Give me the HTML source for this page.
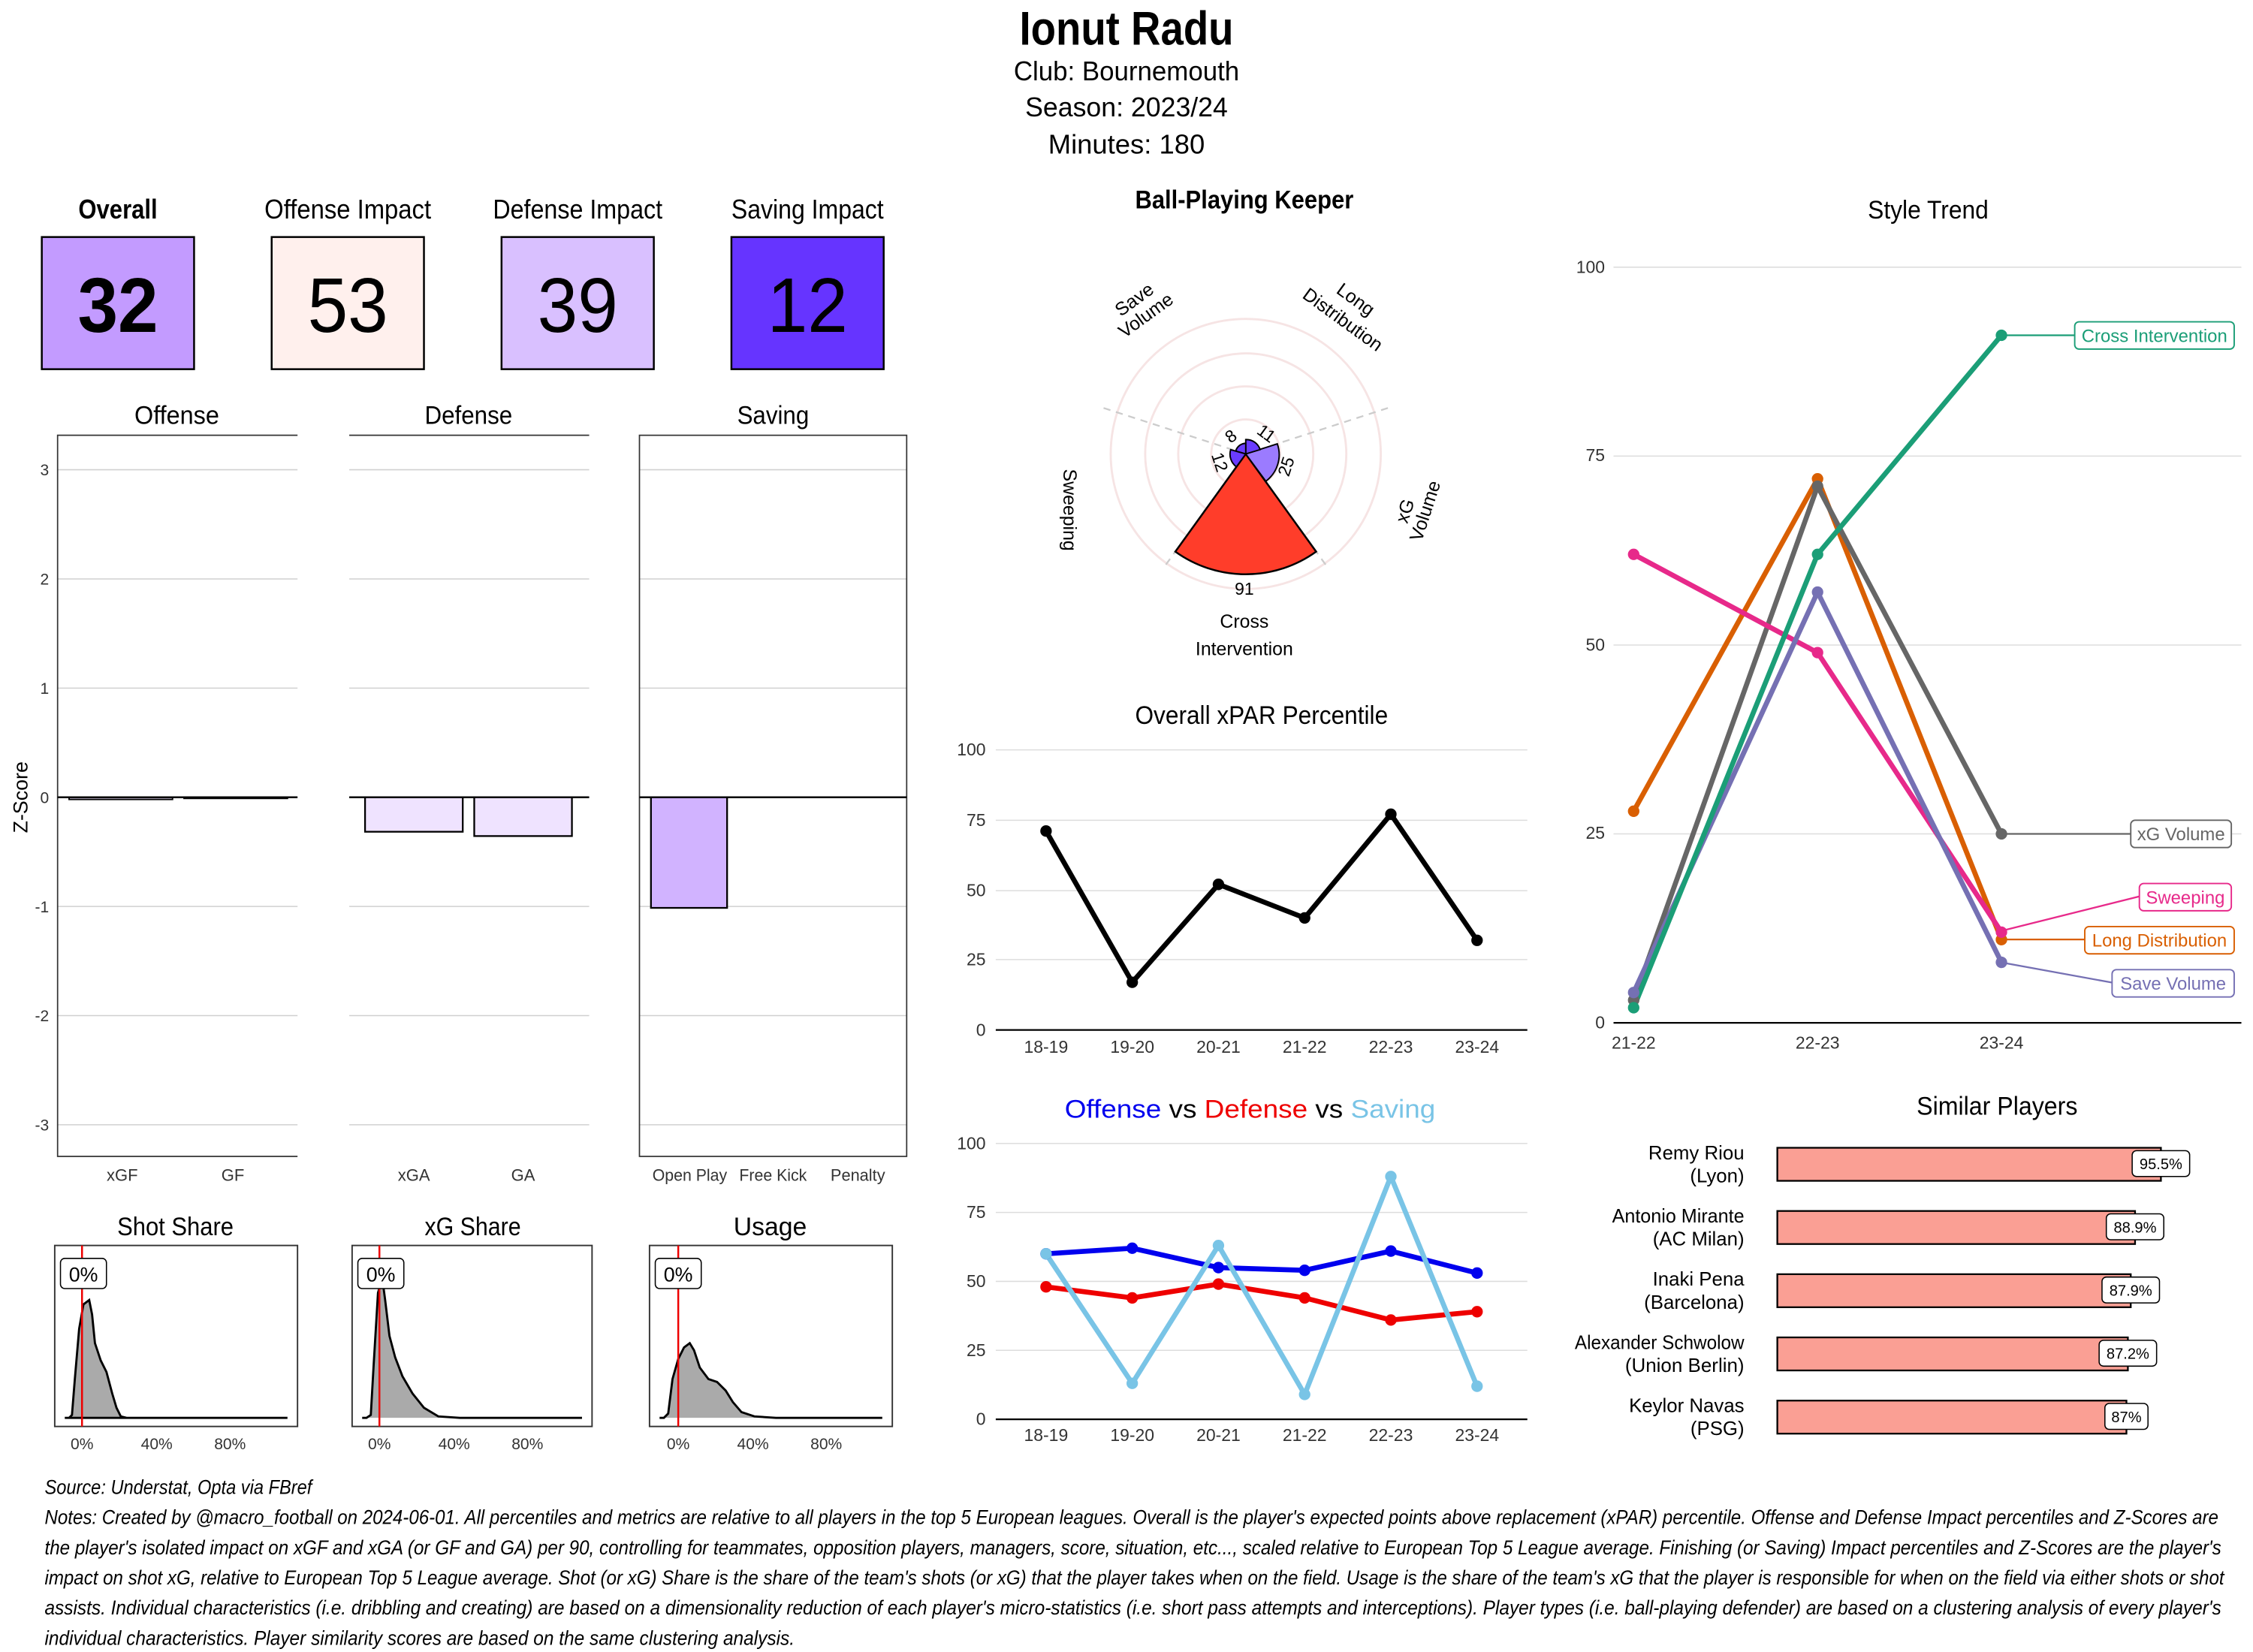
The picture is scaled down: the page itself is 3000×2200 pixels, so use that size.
<!DOCTYPE html>
<html><head><meta charset="utf-8"><style>
html,body{margin:0;padding:0;background:#fff;}
svg{display:block;font-family:"Liberation Sans Narrow","Liberation Sans",sans-serif;}
</style></head><body>
<svg width="3000" height="2200" viewBox="0 0 1568 1150" xmlns="http://www.w3.org/2000/svg">
<rect width="1568" height="1150" fill="#fff"/>
<!-- Title -->
<text x="784" y="31" text-anchor="middle" font-size="33" font-weight="bold" textLength="149" lengthAdjust="spacingAndGlyphs">Ionut Radu</text>
<text x="784" y="56" text-anchor="middle" font-size="19" textLength="157" lengthAdjust="spacingAndGlyphs">Club:  Bournemouth</text>
<text x="784" y="81" text-anchor="middle" font-size="19" textLength="141" lengthAdjust="spacingAndGlyphs">Season:  2023/24</text>
<text x="784" y="107" text-anchor="middle" font-size="19" textLength="109" lengthAdjust="spacingAndGlyphs">Minutes:  180</text>

<!-- Cards -->
<g font-size="19" text-anchor="middle">
<text x="82" y="152" font-weight="bold" textLength="55" lengthAdjust="spacingAndGlyphs">Overall</text>
<text x="242" y="152" textLength="116" lengthAdjust="spacingAndGlyphs">Offense Impact</text>
<text x="402" y="152" textLength="118" lengthAdjust="spacingAndGlyphs">Defense Impact</text>
<text x="562" y="152" textLength="106" lengthAdjust="spacingAndGlyphs">Saving Impact</text>
</g>
<rect x="29" y="165" width="106" height="92" fill="#c39bff" stroke="#000" stroke-width="1.3"/>
<rect x="189" y="165" width="106" height="92" fill="#fff0ed" stroke="#000" stroke-width="1.3"/>
<rect x="349" y="165" width="106" height="92" fill="#d9c0ff" stroke="#000" stroke-width="1.3"/>
<rect x="509" y="165" width="106" height="92" fill="#6634ff" stroke="#000" stroke-width="1.3"/>
<g font-size="54" text-anchor="middle">
<text x="82" y="231" font-weight="bold" textLength="56" lengthAdjust="spacingAndGlyphs">32</text>
<text x="242" y="231" textLength="56" lengthAdjust="spacingAndGlyphs">53</text>
<text x="402" y="231" textLength="56" lengthAdjust="spacingAndGlyphs">39</text>
<text x="562" y="231" textLength="56" lengthAdjust="spacingAndGlyphs">12</text>
</g>

<!-- Z-score bar panels -->
<g font-size="18" text-anchor="middle">
<text x="123" y="295" textLength="59" lengthAdjust="spacingAndGlyphs">Offense</text>
<text x="326" y="295" textLength="61" lengthAdjust="spacingAndGlyphs">Defense</text>
<text x="538" y="295" textLength="50" lengthAdjust="spacingAndGlyphs">Saving</text>
</g>
<g stroke="#d0d0d0" stroke-width="0.8">
<line x1="40" x2="207" y1="327" y2="327"/><line x1="40" x2="207" y1="403" y2="403"/><line x1="40" x2="207" y1="479" y2="479"/><line x1="40" x2="207" y1="631" y2="631"/><line x1="40" x2="207" y1="707" y2="707"/><line x1="40" x2="207" y1="783" y2="783"/>
<line x1="243" x2="410" y1="327" y2="327"/><line x1="243" x2="410" y1="403" y2="403"/><line x1="243" x2="410" y1="479" y2="479"/><line x1="243" x2="410" y1="631" y2="631"/><line x1="243" x2="410" y1="707" y2="707"/><line x1="243" x2="410" y1="783" y2="783"/>
<line x1="445" x2="631" y1="327" y2="327"/><line x1="445" x2="631" y1="403" y2="403"/><line x1="445" x2="631" y1="479" y2="479"/><line x1="445" x2="631" y1="631" y2="631"/><line x1="445" x2="631" y1="707" y2="707"/><line x1="445" x2="631" y1="783" y2="783"/>
</g>
<g fill="none" stroke="#333" stroke-width="0.9">
<polyline points="207,303 40,303 40,805 207,805"/>
<line x1="243" x2="410" y1="303" y2="303"/>
<rect x="445" y="303" width="186" height="502"/>
</g>
<g font-size="11" fill="#333" text-anchor="end">
<text x="34" y="331">3</text><text x="34" y="407">2</text><text x="34" y="483">1</text><text x="34" y="559">0</text><text x="34" y="635">-1</text><text x="34" y="711">-2</text><text x="34" y="787">-3</text>
</g>
<text transform="translate(19,555) rotate(-90)" text-anchor="middle" font-size="14">Z-Score</text>
<rect x="48" y="555" width="72" height="1.5" fill="#efe3ff" stroke="#000" stroke-width="1"/>
<rect x="128" y="555" width="72" height="0.8" fill="#efe3ff" stroke="#000" stroke-width="1"/>
<rect x="254" y="555" width="68" height="24" fill="#efe3ff" stroke="#000" stroke-width="1.2"/>
<rect x="330" y="555" width="68" height="27" fill="#efe3ff" stroke="#000" stroke-width="1.2"/>
<rect x="453" y="555" width="53" height="77" fill="#d1b3ff" stroke="#000" stroke-width="1.2"/>
<g stroke="#000" stroke-width="1.3"><line x1="40" x2="207" y1="555" y2="555"/><line x1="243" x2="410" y1="555" y2="555"/><line x1="445" x2="631" y1="555" y2="555"/></g>
<g font-size="11.5" fill="#333" text-anchor="middle">
<text x="85" y="822">xGF</text><text x="162" y="822">GF</text><text x="288" y="822">xGA</text><text x="364" y="822">GA</text>
<text x="480" y="822" textLength="52" lengthAdjust="spacingAndGlyphs">Open Play</text><text x="538" y="822" textLength="47" lengthAdjust="spacingAndGlyphs">Free Kick</text><text x="597" y="822" textLength="38" lengthAdjust="spacingAndGlyphs">Penalty</text>
</g>

<!-- Density panels -->
<g font-size="18" text-anchor="middle">
<text x="122" y="860" textLength="81" lengthAdjust="spacingAndGlyphs">Shot Share</text><text x="329" y="860" textLength="67" lengthAdjust="spacingAndGlyphs">xG Share</text><text x="536" y="860" textLength="51" lengthAdjust="spacingAndGlyphs">Usage</text>
</g>
<g fill="none" stroke="#333" stroke-width="1">
<rect x="38" y="867" width="169" height="126"/><rect x="245" y="867" width="167" height="126"/><rect x="452" y="867" width="169" height="126"/>
</g>
<path d="M45,987 L48,987 L50,985 L52,960 L55,925 L58,908 L62,905 L64,915 L66,935 L70,947 L74,955 L78,970 L81,980 L84,986 L88,987 L140,987 L200,987 Z" fill="#aaa" stroke="#000" stroke-width="1.5"/>
<path d="M252,987 L255,987 L258,985 L260,950 L263,900 L266,890 L268,905 L271,930 L275,945 L280,958 L287,970 L295,980 L305,986 L320,987 L405,987" fill="#aaa" stroke="#000" stroke-width="1.5"/>
<path d="M459,987 L462,987 L465,984 L468,960 L472,946 L476,938 L480,935 L483,940 L487,952 L493,960 L499,962 L505,968 L510,976 L516,983 L525,986 L540,987 L614,987" fill="#aaa" stroke="#000" stroke-width="1.5"/>
<g stroke="#e00" stroke-width="1.3"><line x1="57" x2="57" y1="867" y2="993"/><line x1="264" x2="264" y1="867" y2="993"/><line x1="472" x2="472" y1="867" y2="993"/></g>
<g fill="#fff" stroke="#000" stroke-width="0.8">
<rect x="42" y="876" width="32" height="21" rx="3"/><rect x="249" y="876" width="32" height="21" rx="3"/><rect x="456" y="876" width="32" height="21" rx="3"/>
</g>
<g font-size="14" text-anchor="middle"><text x="58" y="892">0%</text><text x="265" y="892">0%</text><text x="472" y="892">0%</text></g>
<g font-size="11" fill="#333" text-anchor="middle">
<text x="57" y="1009">0%</text><text x="109" y="1009">40%</text><text x="160" y="1009">80%</text>
<text x="264" y="1009">0%</text><text x="316" y="1009">40%</text><text x="367" y="1009">80%</text>
<text x="472" y="1009">0%</text><text x="524" y="1009">40%</text><text x="575" y="1009">80%</text>
</g>

<!-- Radar (center 867,316) -->
<text x="866" y="145" text-anchor="middle" font-size="18" font-weight="bold" textLength="152" lengthAdjust="spacingAndGlyphs">Ball-Playing Keeper</text>
<g fill="none" stroke="#f6e4e4" stroke-width="1.5">
<circle cx="867" cy="316" r="24"/><circle cx="867" cy="316" r="47"/><circle cx="867" cy="316" r="70"/><circle cx="867" cy="316" r="94"/>
</g>
<g stroke="#ccc" stroke-width="1.2" stroke-dasharray="5,4">
<line x1="867" y1="316" x2="768" y2="284"/><line x1="867" y1="316" x2="966" y2="284"/>
<line x1="867" y1="316" x2="810" y2="395"/><line x1="867" y1="316" x2="924" y2="395"/>
</g>
<path d="M867,316 L818,384 A84,84 0 0 0 916,384 Z" fill="#ff3d2a" stroke="#000" stroke-width="1.3"/>
<path d="M867,316 L889,309 A23,23 0 0 1 881,335 Z" fill="#9b7bff" stroke="#000" stroke-width="1"/>
<path d="M867,316 L867,306 A10,10 0 0 1 877,313 Z" fill="#6a3cff" stroke="#000" stroke-width="1"/>
<path d="M867,316 L860,314 A7.4,7.4 0 0 1 867,308.6 Z" fill="#6a3cff" stroke="#000" stroke-width="1"/>
<path d="M867,316 L860.5,325 A11,11 0 0 1 856.5,313 Z" fill="#6a3cff" stroke="#000" stroke-width="1"/>
<g font-size="12" text-anchor="middle">
<text x="866" y="414">91</text>
<text transform="translate(899,326) rotate(-72)">25</text>
<text transform="translate(879,305) rotate(36)">11</text>
<text transform="translate(859,307) rotate(-36)">8</text>
<text transform="translate(845,323) rotate(72)">12</text>
</g>
<g font-size="13" text-anchor="middle">
<text transform="translate(792,212) rotate(-36)">Save</text>
<text transform="translate(800,223) rotate(-36)">Volume</text>
<text transform="translate(941,212) rotate(36)">Long</text>
<text transform="translate(932,226) rotate(36)">Distribution</text>
<text transform="translate(740,355) rotate(90)">Sweeping</text>
<text transform="translate(982,357) rotate(-72)">xG</text>
<text transform="translate(996,357) rotate(-72)">Volume</text>
<text x="866" y="437">Cross</text>
<text x="866" y="456">Intervention</text>
</g>

<!-- xPAR -->
<text x="878" y="504" text-anchor="middle" font-size="18" textLength="176" lengthAdjust="spacingAndGlyphs">Overall xPAR Percentile</text>
<g stroke="#ddd" stroke-width="0.8">
<line x1="693" x2="1063" y1="522" y2="522"/><line x1="693" x2="1063" y1="571" y2="571"/><line x1="693" x2="1063" y1="620" y2="620"/><line x1="693" x2="1063" y1="668" y2="668"/>
</g>
<line x1="693" x2="1063" y1="717" y2="717" stroke="#000" stroke-width="1.2"/>
<g font-size="12" fill="#333" text-anchor="end">
<text x="686" y="526">100</text><text x="686" y="575">75</text><text x="686" y="624">50</text><text x="686" y="672">25</text><text x="686" y="721">0</text>
</g>
<g font-size="12" fill="#333" text-anchor="middle">
<text x="728" y="733">18-19</text><text x="788" y="733">19-20</text><text x="848" y="733">20-21</text><text x="908" y="733">21-22</text><text x="968" y="733">22-23</text><text x="1028" y="733">23-24</text>
</g>
<polyline points="728,578.5 788,683.8 848,615.6 908,639 968,566.8 1028,654.6" fill="none" stroke="#000" stroke-width="3.5" stroke-linejoin="round"/>
<g fill="#000"><circle cx="728" cy="578.5" r="4"/><circle cx="788" cy="683.8" r="4"/><circle cx="848" cy="615.6" r="4"/><circle cx="908" cy="639" r="4"/><circle cx="968" cy="566.8" r="4"/><circle cx="1028" cy="654.6" r="4"/></g>

<!-- Offense vs Defense vs Saving -->
<text x="870" y="778" text-anchor="middle" font-size="18" textLength="258" lengthAdjust="spacingAndGlyphs"><tspan fill="#0000ee">Offense</tspan><tspan fill="#000">  vs  </tspan><tspan fill="#ee0000">Defense</tspan><tspan fill="#000">  vs  </tspan><tspan fill="#79c4e6">Saving</tspan></text>
<g stroke="#ddd" stroke-width="0.8">
<line x1="693" x2="1063" y1="796" y2="796"/><line x1="693" x2="1063" y1="844" y2="844"/><line x1="693" x2="1063" y1="892" y2="892"/><line x1="693" x2="1063" y1="940" y2="940"/>
</g>
<line x1="693" x2="1063" y1="988" y2="988" stroke="#000" stroke-width="1.2"/>
<g font-size="12" fill="#333" text-anchor="end">
<text x="686" y="800">100</text><text x="686" y="848">75</text><text x="686" y="896">50</text><text x="686" y="944">25</text><text x="686" y="992">0</text>
</g>
<g font-size="12" fill="#333" text-anchor="middle">
<text x="728" y="1003">18-19</text><text x="788" y="1003">19-20</text><text x="848" y="1003">20-21</text><text x="908" y="1003">21-22</text><text x="968" y="1003">22-23</text><text x="1028" y="1003">23-24</text>
</g>
<g fill="none" stroke-width="3.5" stroke-linejoin="round">
<polyline points="728,872.8 788,868.9 848,882.4 908,884.3 968,870.9 1028,886.2" stroke="#0000ee"/>
<polyline points="728,895.8 788,903.5 848,893.9 908,903.5 968,918.9 1028,913.1" stroke="#ee0000"/>
<polyline points="728,872.8 788,963 848,867 908,970.7 968,819 1028,965" stroke="#79c4e6"/>
</g>
<g fill="#0000ee"><circle cx="728" cy="872.8" r="4"/><circle cx="788" cy="868.9" r="4"/><circle cx="848" cy="882.4" r="4"/><circle cx="908" cy="884.3" r="4"/><circle cx="968" cy="870.9" r="4"/><circle cx="1028" cy="886.2" r="4"/></g>
<g fill="#ee0000"><circle cx="728" cy="895.8" r="4"/><circle cx="788" cy="903.5" r="4"/><circle cx="848" cy="893.9" r="4"/><circle cx="908" cy="903.5" r="4"/><circle cx="968" cy="918.9" r="4"/><circle cx="1028" cy="913.1" r="4"/></g>
<g fill="#79c4e6"><circle cx="728" cy="872.8" r="4"/><circle cx="788" cy="963" r="4"/><circle cx="848" cy="867" r="4"/><circle cx="908" cy="970.7" r="4"/><circle cx="968" cy="819" r="4"/><circle cx="1028" cy="965" r="4"/></g>

<!-- Style Trend -->
<text x="1342" y="152" text-anchor="middle" font-size="18" textLength="84" lengthAdjust="spacingAndGlyphs">Style Trend</text>
<g stroke="#ddd" stroke-width="0.8">
<line x1="1123" x2="1560" y1="186" y2="186"/><line x1="1123" x2="1560" y1="317.5" y2="317.5"/><line x1="1123" x2="1560" y1="449" y2="449"/><line x1="1123" x2="1560" y1="580.5" y2="580.5"/>
</g>
<line x1="1123" x2="1560" y1="712" y2="712" stroke="#000" stroke-width="1.2"/>
<g font-size="12" fill="#333" text-anchor="end">
<text x="1117" y="190">100</text><text x="1117" y="321">75</text><text x="1117" y="453">50</text><text x="1117" y="584">25</text><text x="1117" y="716">0</text>
</g>
<g font-size="12" fill="#333" text-anchor="middle">
<text x="1137" y="730">21-22</text><text x="1265" y="730">22-23</text><text x="1393" y="730">23-24</text>
</g>
<g fill="none" stroke-width="1.2">
<line x1="1393" y1="233.4" x2="1444" y2="233.4" stroke="#1b9e77"/>
<line x1="1393" y1="580.5" x2="1483" y2="580.5" stroke="#666"/>
<line x1="1393" y1="648" x2="1489" y2="624" stroke="#e7298a"/>
<line x1="1393" y1="654" x2="1451" y2="654" stroke="#d95f02"/>
<line x1="1393" y1="670" x2="1470" y2="684" stroke="#7570b3"/>
</g>
<g fill="none" stroke-width="3.5" stroke-linejoin="round">
<polyline points="1137,564.7 1265,333.3 1393,654.1" stroke="#d95f02"/>
<polyline points="1137,696.2 1265,338.5 1393,580.5" stroke="#666"/>
<polyline points="1137,385.9 1265,454.3 1393,648.9" stroke="#e7298a"/>
<polyline points="1137,690.9 1265,412.2 1393,669.9" stroke="#7570b3"/>
<polyline points="1137,701.5 1265,385.9 1393,233.4" stroke="#1b9e77"/>
</g>
<g>
<circle cx="1137" cy="564.7" r="4" fill="#d95f02"/><circle cx="1265" cy="333.3" r="4" fill="#d95f02"/><circle cx="1393" cy="654.1" r="4" fill="#d95f02"/>
<circle cx="1137" cy="696.2" r="4" fill="#666"/><circle cx="1265" cy="338.5" r="4" fill="#666"/><circle cx="1393" cy="580.5" r="4" fill="#666"/>
<circle cx="1137" cy="385.9" r="4" fill="#e7298a"/><circle cx="1265" cy="454.3" r="4" fill="#e7298a"/><circle cx="1393" cy="648.9" r="4" fill="#e7298a"/>
<circle cx="1137" cy="690.9" r="4" fill="#7570b3"/><circle cx="1265" cy="412.2" r="4" fill="#7570b3"/><circle cx="1393" cy="669.9" r="4" fill="#7570b3"/>
<circle cx="1137" cy="701.5" r="4" fill="#1b9e77"/><circle cx="1265" cy="385.9" r="4" fill="#1b9e77"/><circle cx="1393" cy="233.4" r="4" fill="#1b9e77"/>
</g>
<g fill="#fff" stroke-width="1">
<rect x="1444" y="224" width="111" height="19" rx="3" stroke="#1b9e77"/>
<rect x="1483" y="571" width="70" height="19" rx="3" stroke="#666"/>
<rect x="1489" y="615" width="64" height="19" rx="3" stroke="#e7298a"/>
<rect x="1451" y="645" width="104" height="19" rx="3" stroke="#d95f02"/>
<rect x="1470" y="675" width="85" height="19" rx="3" stroke="#7570b3"/>
</g>
<g font-size="12.5" text-anchor="middle">
<text x="1499.5" y="238" fill="#1b9e77">Cross Intervention</text>
<text x="1518" y="585" fill="#666">xG Volume</text>
<text x="1521" y="629" fill="#e7298a">Sweeping</text>
<text x="1503" y="659" fill="#d95f02">Long Distribution</text>
<text x="1512.5" y="689" fill="#7570b3">Save Volume</text>
</g>

<!-- Similar players -->
<text x="1390" y="776" text-anchor="middle" font-size="18" textLength="112" lengthAdjust="spacingAndGlyphs">Similar Players</text>
<g fill="#fa9f94" stroke="#000" stroke-width="1.2">
<rect x="1237" y="799" width="267" height="23"/>
<rect x="1237" y="843" width="249" height="23"/>
<rect x="1237" y="887" width="246" height="23"/>
<rect x="1237" y="931" width="244" height="23"/>
<rect x="1237" y="975" width="243" height="23"/>
</g>
<g fill="#fff" stroke="#000" stroke-width="0.8">
<rect x="1484" y="801" width="40" height="18" rx="3"/>
<rect x="1466" y="845" width="40" height="18" rx="3"/>
<rect x="1463" y="889" width="40" height="18" rx="3"/>
<rect x="1461" y="933" width="40" height="18" rx="3"/>
<rect x="1465" y="977" width="30" height="18" rx="3"/>
</g>
<g font-size="10.5" font-family="Liberation Sans, sans-serif" text-anchor="middle">
<text x="1504" y="814">95.5%</text><text x="1486" y="858">88.9%</text><text x="1483" y="902">87.9%</text><text x="1481" y="946">87.2%</text><text x="1480" y="990">87%</text>
</g>
<g font-size="13.5" text-anchor="end">
<text x="1214" y="807">Remy Riou</text><text x="1214" y="823">(Lyon)</text>
<text x="1214" y="851" textLength="92" lengthAdjust="spacingAndGlyphs">Antonio Mirante</text><text x="1214" y="867">(AC Milan)</text>
<text x="1214" y="895">Inaki Pena</text><text x="1214" y="911">(Barcelona)</text>
<text x="1214" y="939" textLength="118" lengthAdjust="spacingAndGlyphs">Alexander Schwolow</text><text x="1214" y="955" textLength="83" lengthAdjust="spacingAndGlyphs">(Union Berlin)</text>
<text x="1214" y="983">Keylor Navas</text><text x="1214" y="999">(PSG)</text>
</g>

<!-- Footer -->
<g font-size="14" font-style="italic">
<text x="31" y="1040" textLength="186" lengthAdjust="spacingAndGlyphs">Source: Understat, Opta via FBref</text>
<text x="31" y="1061" textLength="1513" lengthAdjust="spacingAndGlyphs">Notes: Created by @macro_football on 2024-06-01. All percentiles and metrics are relative to all players in the top 5 European leagues. Overall is the player's expected points above replacement (xPAR) percentile. Offense and Defense Impact percentiles and Z-Scores are</text>
<text x="31" y="1082" textLength="1515" lengthAdjust="spacingAndGlyphs">the player's isolated impact on xGF and xGA (or GF and GA) per 90, controlling for teammates, opposition players, managers, score, situation, etc..., scaled relative to European Top 5 League average. Finishing (or Saving) Impact percentiles and Z-Scores are the player's</text>
<text x="31" y="1103" textLength="1517" lengthAdjust="spacingAndGlyphs">impact on shot xG, relative to European Top 5 League average. Shot (or xG) Share is the share of the team's shots (or xG) that the player takes when on the field. Usage is the share of the team's xG that the player is responsible for when on the field via either shots or shot</text>
<text x="31" y="1124" textLength="1515" lengthAdjust="spacingAndGlyphs">assists. Individual characteristics (i.e. dribbling and creating) are based on a dimensionality reduction of each player's micro-statistics (i.e. short pass attempts and interceptions). Player types (i.e. ball-playing defender) are based on a clustering analysis of every player's</text>
<text x="31" y="1145" textLength="522" lengthAdjust="spacingAndGlyphs">individual characteristics. Player similarity scores are based on the same clustering analysis.</text>
</g>
</svg>
</body></html>
